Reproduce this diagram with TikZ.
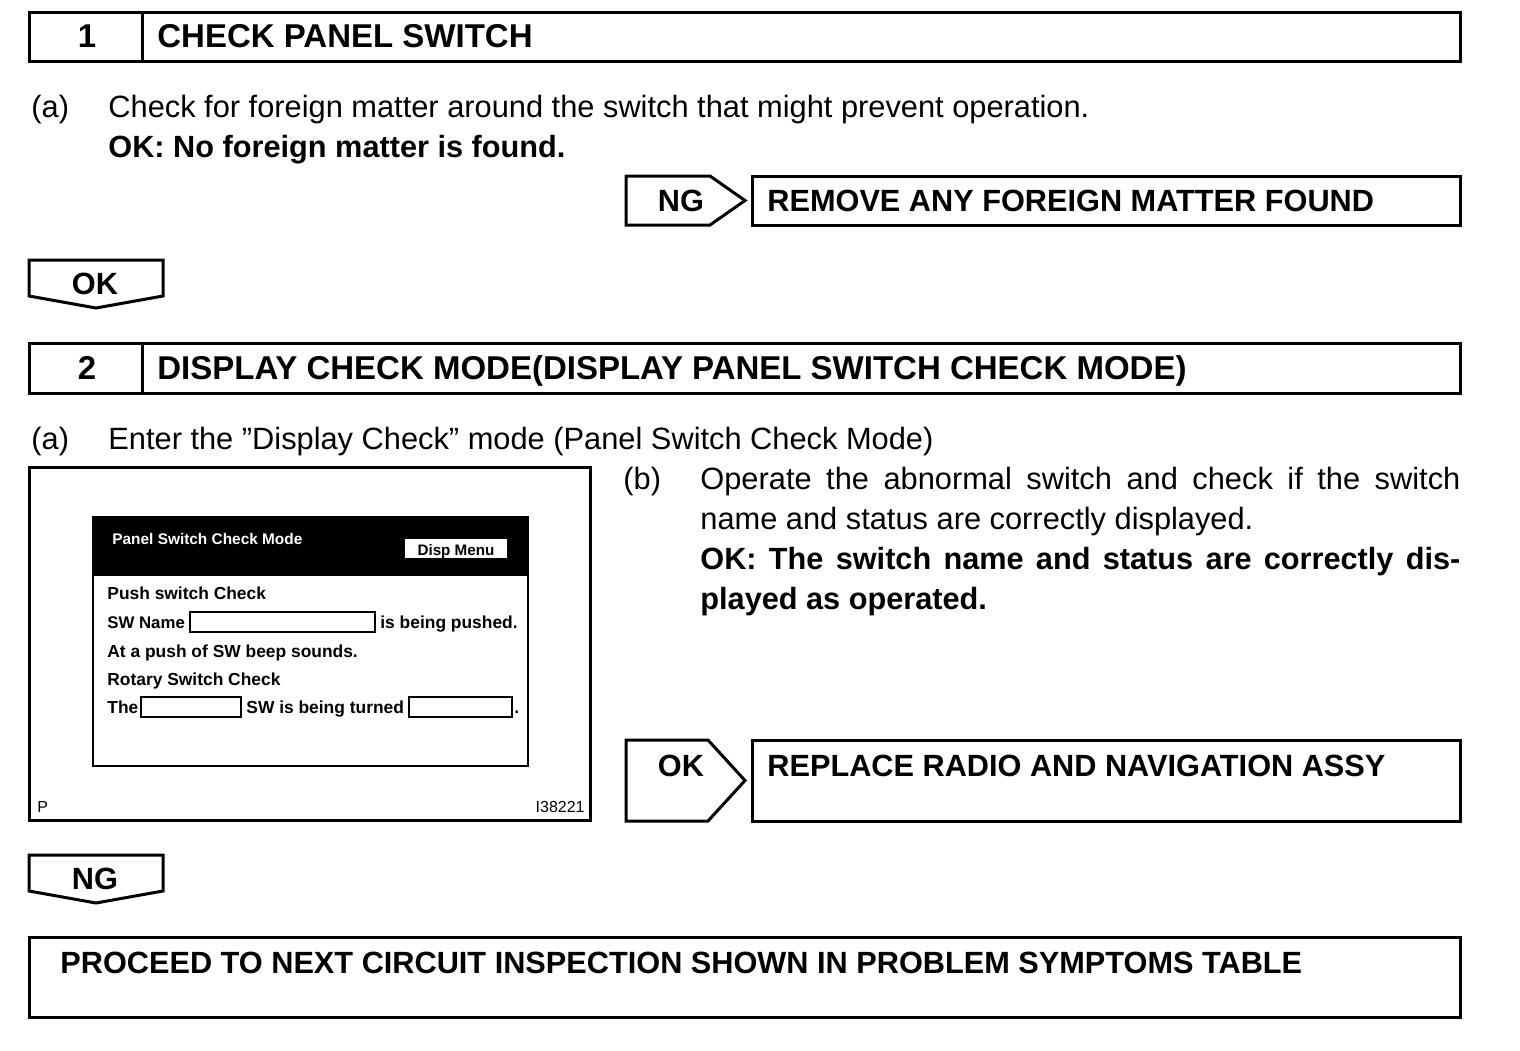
\documentclass[tikz,border=0pt]{standalone}
\usepackage{fontspec}
\setmainfont{Liberation Sans}
\begin{document}
\begin{tikzpicture}[x=0.5pt,y=-0.5pt,
  box/.style={draw, line width=1.5pt},
  thin/.style={draw, line width=0.8pt},
  field/.style={draw, line width=0.7pt},
  txt/.style={anchor=base west, inner sep=0pt, font=\fontsize{15.4}{18}\selectfont},
  btxt/.style={anchor=base west, inner sep=0pt, font=\fontsize{15.35}{18}\selectfont\bfseries},
  htxt/.style={anchor=base west, inner sep=0pt, font=\fontsize{16.5}{18}\selectfont\bfseries},
  stxt/.style={anchor=base west, inner sep=0pt, font=\fontsize{8.7}{10}\selectfont\bfseries},
  ptxt/.style={anchor=base west, inner sep=0pt, font=\fontsize{8}{10}\selectfont}]
\useasboundingbox[fill=white] (0,0) rectangle (1520,1050);

% ---- Step 1 header
\draw[box] (29,12) rectangle (1460,61);
\draw[box] (142,12) -- (142,61);
\node[htxt, anchor=base] (n1) at (87,47) {1};
\node[htxt] (h1) at (157,47) {CHECK PANEL SWITCH};

\node[txt] (a1) at (31,117) {(a)};
\node[txt] (a1t) at (108,117) {Check for foreign matter around the switch that might prevent operation.};
\node[btxt] (ok1) at (108,157) {OK: No foreign matter is found.};

% NG -> remove
\draw[box] (626,176) -- (710,176) -- (745,200.5) -- (710,225) -- (626,225) -- cycle;
\node[btxt, anchor=base] (ng1) at (681,211) {NG};
\draw[box] (752,176) rectangle (1460,225);
\node[btxt] (rem) at (767,211) {REMOVE ANY FOREIGN MATTER FOUND};

% OK tag
\draw[box] (29,260) -- (163,260) -- (163,296) -- (96,308) -- (29,296) -- cycle;
\node[btxt, anchor=base] (oktag) at (95,294) {OK};

% ---- Step 2 header
\draw[box] (29,343) rectangle (1460,393);
\draw[box] (142,343) -- (142,393);
\node[htxt, anchor=base] (n2) at (87,379) {2};
\node[htxt] (h2) at (157,379) {DISPLAY CHECK MODE(DISPLAY PANEL SWITCH CHECK MODE)};

\node[txt] (a2) at (31,449) {(a)};
\node[txt] (a2t) at (108,449) {Enter the ”Display Check” mode (Panel Switch Check Mode)};

% illustration frame
\draw[box] (29,467) rectangle (590,820);
\fill[black] (93,517) rectangle (528,576);
\draw[thin] (93,517) rectangle (528,766);
\node[stxt, text=white, font=\fontsize{7.7}{10}\selectfont\bfseries] (scrt) at (112,544) {Panel Switch Check Mode};
\draw[field, fill=white] (404,538) rectangle (508,559);
\node[stxt, anchor=base, font=\fontsize{7.6}{10}\selectfont\bfseries] (disp) at (456,555) {Disp Menu};
\node[stxt] (r1) at (107,599) {Push switch Check};
\node[stxt, font=\fontsize{8.4}{10}\selectfont\bfseries] (r2) at (107,628) {SW Name};
\draw[field] (190,612) rectangle (375,632);
\node[stxt] (r2b) at (380,628) {is being pushed.};
\node[stxt] (r3) at (107,657) {At a push of SW beep sounds.};
\node[stxt] (r4) at (107,685) {Rotary Switch Check};
\node[stxt] (r5) at (107,713) {The};
\draw[field] (141,697) rectangle (241,717);
\node[stxt] (r5b) at (246,713) {SW is being turned};
\draw[field] (409,697) rectangle (512,717);
\node[stxt] (r5c) at (514,713) {.};
\node[ptxt] (pp) at (37,812) {P};
\node[ptxt, anchor=base east] (code) at (585,812) {I38221};

% (b) text
\node[txt] (b) at (623,489) {(b)};
\node[txt] (b1) at (700,489) {\makebox[380pt][s]{Operate the abnormal switch and check if the switch}};
\node[txt] (b2) at (700,529) {name and status are correctly displayed.};
\node[btxt] (b3) at (700,569) {\makebox[380pt][s]{OK: The switch name and status are correctly dis-}};
\node[btxt] (b4) at (700,609) {played as operated.};

% OK -> replace
\draw[box] (626,740) -- (708,740) -- (745,780.5) -- (708,821) -- (626,821) -- cycle;
\node[btxt, anchor=base] (ok2) at (681,776) {OK};
\draw[box] (752,740) rectangle (1460,821);
\node[btxt] (rep) at (767,776) {REPLACE RADIO AND NAVIGATION ASSY};

% NG tag
\draw[box] (29,855) -- (163,855) -- (163,891) -- (96,903) -- (29,891) -- cycle;
\node[btxt, anchor=base] (ngtag) at (95,889) {NG};

% final box
\draw[box] (29,937) rectangle (1460,1017);
\node[btxt] (proc) at (60,973) {PROCEED TO NEXT CIRCUIT INSPECTION SHOWN IN PROBLEM SYMPTOMS TABLE};
\end{tikzpicture}
\end{document}
